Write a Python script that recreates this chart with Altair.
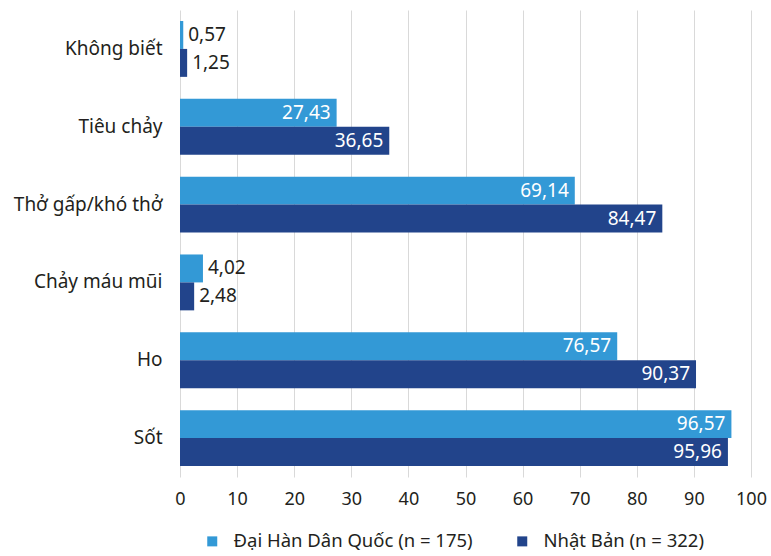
import altair as alt
import pandas as pd

categories = ["Không biết", "Tiêu chảy", "Thở gấp/khó thở", "Chảy máu mũi", "Ho", "Sốt"]
series = ["Đại Hàn Dân Quốc (n = 175)", "Nhật Bản (n = 322)"]
korea = [0.57, 27.43, 69.14, 4.02, 76.57, 96.57]
japan = [1.25, 36.65, 84.47, 2.48, 90.37, 95.96]
colors = ["#3399d6", "#22448b"]

rows = []
for i, c in enumerate(categories):
    rows.append({"cat": c, "series": series[0], "v": korea[i]})
    rows.append({"cat": c, "series": series[1], "v": japan[i]})
df = pd.DataFrame(rows)
df["label"] = df["v"].map(lambda x: f"{x:.2f}".replace(".", ","))
df["inside"] = df["v"] > 10

FONT = "Noto Sans"
INK = "#231f20"

y_enc = alt.Y("cat:N", sort=categories, title=None,
              scale=alt.Scale(paddingInner=0.282, paddingOuter=0.141),
              axis=alt.Axis(ticks=False, domain=False, labelFontSize=19,
                            labelColor=INK, labelPadding=18, labelFont=FONT,
                            labelLimit=0))
x_enc = alt.X("v:Q", title=None,
              scale=alt.Scale(domain=[0, 100], nice=False),
              axis=alt.Axis(values=list(range(0, 101, 10)), grid=True, gridColor="#d9d9d9",
                            domain=False, ticks=False, labelFlush=False,
                            labelFontSize=18, labelColor=INK, labelFont=FONT,
                            labelPadding=13))
yoff = alt.YOffset("series:N", sort=series)

bars = alt.Chart(df).mark_bar().encode(
    y=y_enc, x=x_enc, yOffset=yoff,
    color=alt.Color("series:N", sort=series, title=None,
                    scale=alt.Scale(domain=series, range=colors),
                    legend=alt.Legend(orient="none", direction="horizontal",
                                      legendX=23, legendY=522, symbolType="square",
                                      symbolSize=100, labelFontSize=18.5, labelFont=FONT,
                                      labelColor=INK, columnPadding=40, labelLimit=0,
                                      labelOffset=12, symbolStrokeWidth=0)),
)

inside = alt.Chart(df).transform_filter("datum.inside").mark_text(
    align="right", baseline="middle", dx=-6, fontSize=19, color="white", font=FONT
).encode(y=alt.Y("cat:N", sort=categories), x="v:Q", yOffset=yoff, text="label:N")

outside = alt.Chart(df).transform_filter("!datum.inside").mark_text(
    align="left", baseline="middle", dx=5, fontSize=19, color=INK, font=FONT
).encode(y=alt.Y("cat:N", sort=categories), x="v:Q", yOffset=yoff, text="label:N")

chart = alt.layer(bars, inside, outside).properties(
    width=571, height=467,
    autosize=alt.AutoSizeParams(type="none"),
    padding={"left": 180, "top": 10, "right": 20, "bottom": 79},
).configure_view(stroke=None)

chart.save("out.html", embed_options={"renderer": "svg", "actions": False})
